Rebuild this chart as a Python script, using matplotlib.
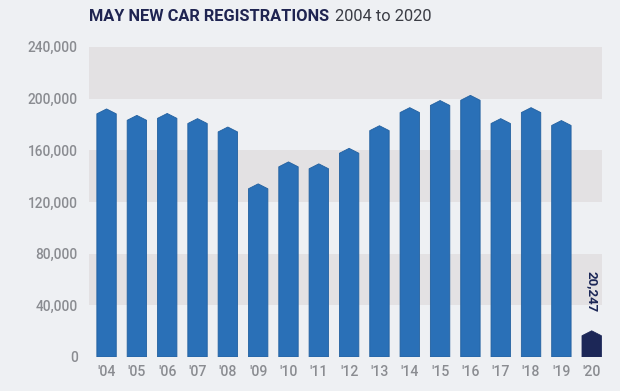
import matplotlib
matplotlib.use("Agg")
import matplotlib.pyplot as plt
from matplotlib.patches import Polygon

years = ["'04", "'05", "'06", "'07", "'08", "'09", "'10", "'11", "'12", "'13",
         "'14", "'15", "'16", "'17", "'18", "'19", "'20"]
values = [192000, 187000, 188500, 184500, 178000, 134000, 151000, 149500, 161500, 179000,
          193000, 198500, 202500, 184500, 193000, 183000, 20247]
yticks = [0, 40000, 80000, 120000, 160000, 200000, 240000]
bands = [(40000, 80000), (120000, 160000), (200000, 240000)]
highlight_label = "20,247"

bg = "#eef0f3"
band_col = "#e3e1e3"
bar_col = "#2a70b7"
bar_edge = "#22609f"
hl_col = "#1c2757"
tick_col = "#8a8c91"

fig = plt.figure(figsize=(6.2, 3.91), dpi=100, facecolor=bg)
ax = fig.add_axes([0.1435, 0.087, 0.827, 0.793])
ax.set_facecolor(bg)

ax.set_xlim(-0.58, 16.33)
ax.set_ylim(0, 240000)

for lo, hi in bands:
    ax.axhspan(lo, hi, color=band_col, lw=0, zorder=0)

w = 0.64
roof = 3800
for i, v in enumerate(values):
    col = hl_col if i == len(values) - 1 else bar_col
    ec = hl_col if i == len(values) - 1 else bar_edge
    pts = [(i - w / 2, 0), (i - w / 2, v - roof), (i, v), (i + w / 2, v - roof), (i + w / 2, 0)]
    ax.add_patch(Polygon(pts, closed=True, facecolor=col, edgecolor=ec, lw=0.6, zorder=2))

ax.text(len(values) - 1, values[-1] + 14500, highlight_label, rotation=-90,
        ha="center", va="bottom", fontsize=9.5, fontweight="bold", color=hl_col,
        family="Roboto", zorder=3)

ax.set_xticks(range(len(years)))
ax.set_xticklabels(years)
ax.set_yticks(yticks)
ax.set_yticklabels([f"{t:,}" for t in yticks])
ax.tick_params(axis="y", length=0, labelsize=9.8, labelcolor=tick_col, pad=8)
ax.tick_params(axis="x", length=0, labelsize=10.2, labelcolor=tick_col, pad=6)
for lbl in ax.get_xticklabels() + ax.get_yticklabels():
    lbl.set_family("Roboto")
    lbl.set_fontweight("medium")
for s in ax.spines.values():
    s.set_visible(False)

fig.text(0.1435, 0.957, "MAY NEW CAR REGISTRATIONS", fontsize=11.8, fontweight="bold",
         color="#1f2451", family="Roboto", va="center", ha="left")
fig.text(0.540, 0.957, "2004 to 2020", fontsize=11.8, color="#3a3c44",
         family="Roboto", va="center", ha="left")

fig.savefig("out.png", dpi=100, facecolor=bg)
